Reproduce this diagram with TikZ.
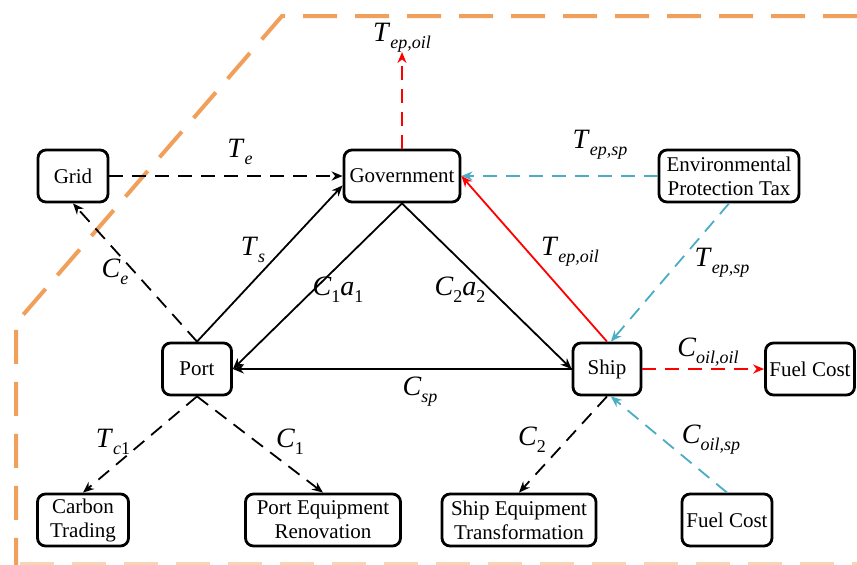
\documentclass[tikz,border=0pt]{standalone}
\usepackage{fontspec}
\setmainfont{Liberation Serif}
\usetikzlibrary{arrows.meta}
\definecolor{orangeb}{RGB}{240,160,90}
\definecolor{cyanl}{RGB}{75,172,198}
\newcommand{\sbx}[1]{\raisebox{-0.55ex}{\fontsize{9}{9}\selectfont #1}}
\tikzset{
  box/.style={draw, line width=1.4pt, rounded corners=4pt, align=center, inner sep=1pt,
    font=\fontsize{10.5}{12}\selectfont, minimum height=26pt},
  conn/.style={line width=0.9pt, -{Stealth[length=5.5pt,width=4.5pt]}},
  dsh/.style={conn, dash pattern=on 7pt off 4.5pt},
  lab/.style={font=\fontsize{14}{14}\selectfont, inner sep=0pt},
  border/.style={draw=orangeb, line width=2pt, dash pattern=on 17pt off 9pt}
}
\begin{document}
\begin{tikzpicture}[x=0.5pt,y=-0.5pt]
\useasboundingbox (0,0) rectangle (857,564);
% orange boundary
\draw[border] (857,16) -- (282,16) -- (16,323) -- (16,600);
\draw[border, draw opacity=0.45] (20,564) -- (857,564);
% nodes
\node[box, minimum width=35pt] (grid) at (73,176) {Grid};
\node[box, minimum width=58pt] (gov) at (402,176) {Government};
\node[box, minimum width=70pt] (ept) at (729,176) {Environmental\\Protection Tax};
\node[box, minimum width=34.5pt] (port) at (197,369) {Port};
\node[box, minimum width=34pt] (ship) at (607,369) {Ship};
\node[box, minimum width=44.5pt] (fuelA) at (810,369) {Fuel Cost};
\node[box, minimum width=45.5pt] (carbon) at (83,520) {Carbon\\Trading};
\node[box, minimum width=77.5pt] (per) at (323,520) {Port Equipment\\Renovation};
\node[box, minimum width=77pt] (set) at (519,520) {Ship Equipment\\Transformation};
\node[box, minimum width=45pt] (fuelB) at (727,520) {Fuel Cost};
\coordinate (toplab) at (402,52);
% connectors
\draw[dsh] (grid.east) -- (gov.west);
\draw[dsh, red] (gov.north) -- (toplab);
\draw[dsh, cyanl] (ept.west) -- (gov.east);
\draw[dsh, cyanl] (ept.south) -- (ship.82);
\draw[conn, red] (ship.north) -- (gov.east);
\draw[conn] (port.north) -- (gov.189);
\draw[conn] (gov.south) -- (port.east);
\draw[conn] (gov.south) -- (ship.west);
\draw[conn] (ship.west) -- (port.east);
\draw[dsh] (port.north) -- (grid.south);
\draw[dsh] (port.south) -- (carbon.north);
\draw[dsh] (port.south) -- (per.north);
\draw[dsh] (ship.south) -- (set.north);
\draw[dsh, cyanl] (fuelB.north) -- (ship.-82);
\draw[dsh, red] (ship.east) -- (fuelA.west);
% labels
\node[lab] (lte) at (240,152) {\textit{T}\sbx{\textit{e}}};
\node[lab] (ltop) at (402,38) {\textit{T}\sbx{\textit{ep,oil}}};
\node[lab] (ltsp1) at (600,145) {\textit{T}\sbx{\textit{ep,sp}}};
\node[lab] (ltsp2) at (722,263) {\textit{T}\sbx{\textit{ep,sp}}};
\node[lab] (ltoil) at (570,252) {\textit{T}\sbx{\textit{ep,oil}}};
\node[lab] (lts) at (253,250) {\textit{T}\sbx{\textit{s}}};
\node[lab] (lce) at (115,272) {\textit{C}\sbx{\textit{e}}};
\node[lab] (lc1a1) at (338,290) {\textit{C}\sbx{1}\textit{a}\sbx{1}};
\node[lab] (lc2a2) at (460,290) {\textit{C}\sbx{2}\textit{a}\sbx{2}};
\node[lab] (lcsp) at (420,392) {\textit{C}\sbx{\textit{sp}}};
\node[lab] (ltc1) at (113,442) {\textit{T}\sbx{\textit{c}1}};
\node[lab] (lc1) at (290,442) {\textit{C}\sbx{1}};
\node[lab] (lc2) at (532,440) {\textit{C}\sbx{2}};
\node[lab] (lcoilsp) at (711,440) {\textit{C}\sbx{\textit{oil,sp}}};
\node[lab] (lcoiloil) at (708,352) {\textit{C}\sbx{\textit{oil,oil}}};
\end{tikzpicture}
\end{document}
